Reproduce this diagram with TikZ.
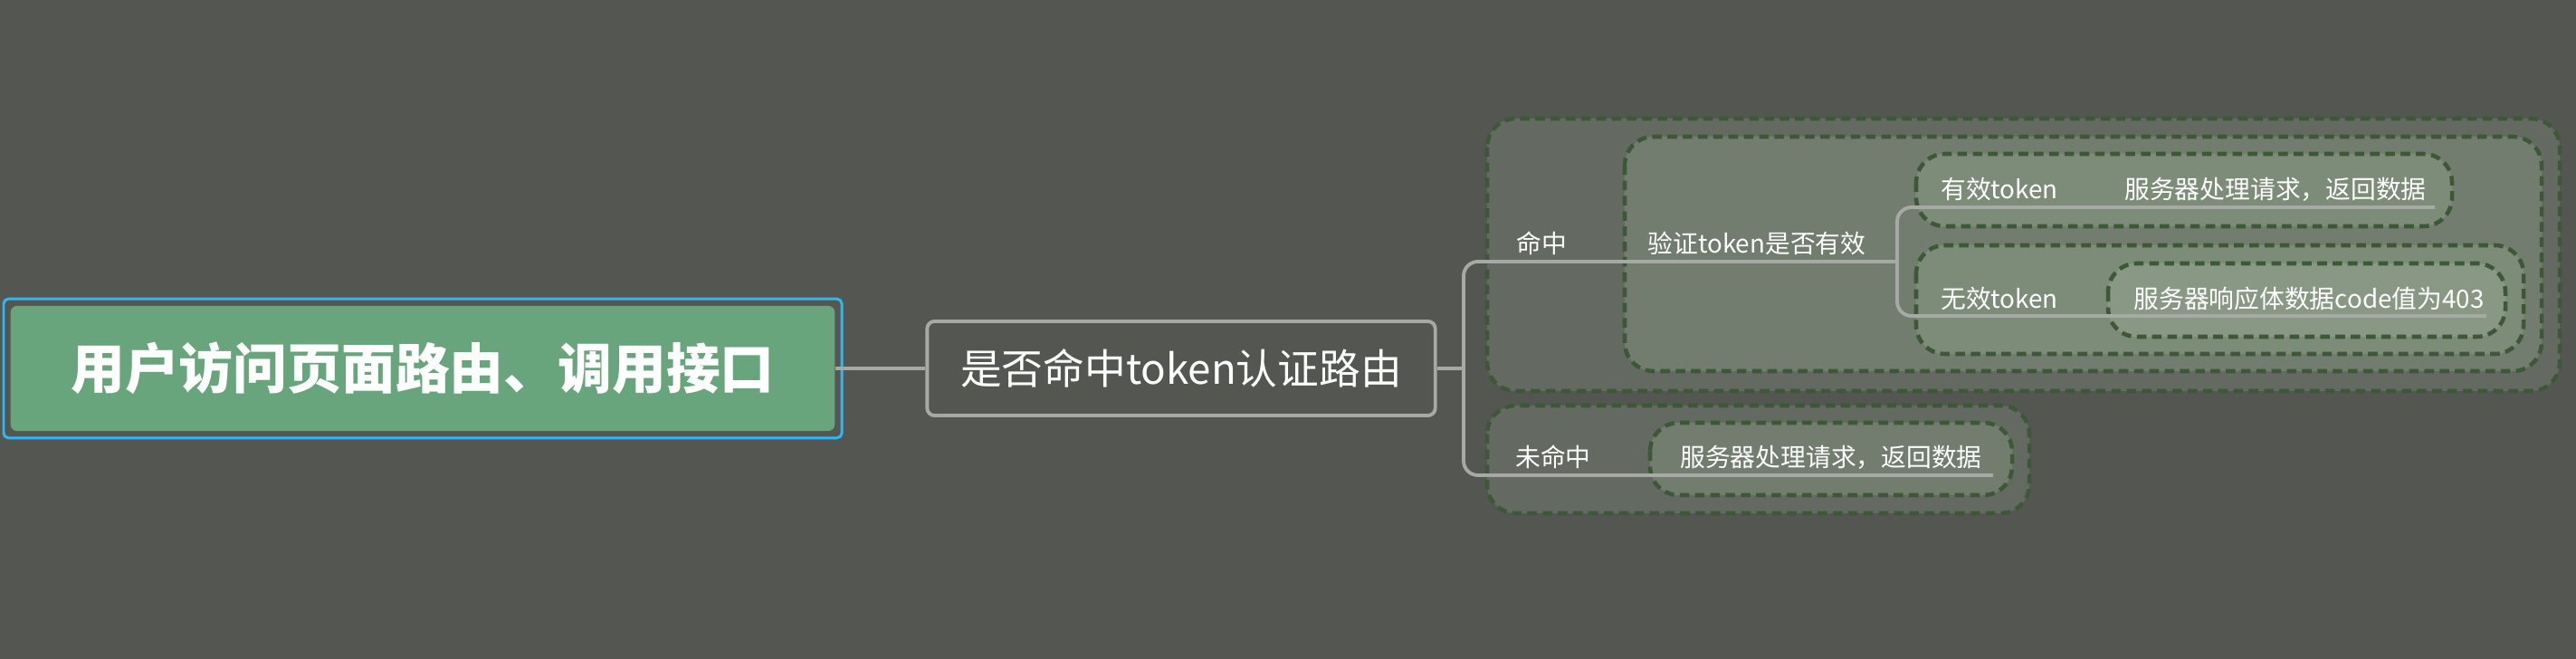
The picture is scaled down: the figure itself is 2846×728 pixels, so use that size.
\documentclass[tikz,border=0pt]{standalone}
\usepackage{fontspec}
\setmainfont{Noto Sans CJK SC}
\usepackage{tikz}
\usetikzlibrary{fit}

\definecolor{bgcol}{HTML}{545652}
\definecolor{rootgreen}{HTML}{68A57C}
\definecolor{selblue}{HTML}{2DB9F4}
\definecolor{linegray}{HTML}{A6A9A4}
\definecolor{dashgreen}{HTML}{3D5836}
\definecolor{boxa}{HTML}{646A62}
\definecolor{boxb}{HTML}{727D6F}
\definecolor{boxc}{HTML}{7D8B79}
\definecolor{boxd}{HTML}{889885}

\begin{document}
\begin{tikzpicture}[x=0.01cm, y=-0.01cm,
  rootnode/.style={fill=rootgreen, rounded corners=2pt, text=white, minimum width=9.10cm, minimum height=1.38cm, font=\fontsize{17pt}{20pt}\selectfont\bfseries},
  selframe/.style={draw=selblue, line width=0.85pt, rounded corners=1.5pt, inner sep=2pt},
  mainnode/.style={draw=linegray, fill=bgcol, line width=1.1pt, rounded corners=2.3pt, text=white, minimum width=5.61cm, minimum height=1.04cm, font=\fontsize{13pt}{16pt}\selectfont},
  leaf/.style={text=white, inner sep=0pt, font=\fontsize{7.9pt}{9pt}\selectfont},
  branch/.style={draw=linegray, line width=1.1pt, rounded corners=4.5pt},
  groupbox/.style={draw=dashgreen, line width=1.3pt, dash pattern=on 3pt off 1.8pt, rounded corners=9pt}]
  % canvas, 1 unit = 1px of the 2846x728 sheet, y runs down
  \fill[bgcol] (0,0) rectangle (2846,728);
  \useasboundingbox (0,0) rectangle (2846,728);
  % dashed summary boxes, outer ones first
  \foreach \xa/\ya/\xb/\yb/\fc in {1643/131/2828/432/boxa, 1795/151/2808/410/boxb,
      2117/170/2709/250/boxc, 2117/271/2788/391/boxc, 2329/291/2768/372/boxd,
      1643/448/2242/567/boxa, 1823/467/2223/547/boxb} {
    \filldraw[groupbox, fill=\fc] (\xa,\ya) rectangle (\xb,\yb);
  }
  % central topic and first branch
  \node[rootnode] (root) at (467,407) {用户访问页面路由、调用接口};
  \node[selframe, fit=(root)] (rootsel) {};
  \node[mainnode] (route) at (1305,407) {是否命中token认证路由};
  % ends of the underlines
  \coordinate (fork) at (1617,407);
  \coordinate (verifyend) at (2096,289);
  \coordinate (validend) at (2690,229);
  \coordinate (invalidend) at (2747,349);
  \coordinate (missend) at (2202,525);
  \draw[branch] (root.east) -- (route.west);
  \draw[branch] (route.east) -- (fork);
  \draw[branch] (verifyend) -| (fork) |- (missend);
  \draw[branch] (validend) -| (verifyend) |- (invalidend);
  % labels sitting on the lines
  \node[leaf] (hit) at (1703,269) {命中};
  \node[leaf] (verify) at (1941,269) {验证token是否有效};
  \node[leaf] (valid) at (2209,209) {有效token};
  \node[leaf] (validres) at (2514,209) {服务器处理请求，返回数据};
  \node[leaf] (invalid) at (2209,330) {无效token};
  \node[leaf] (invalidres) at (2551,330) {服务器响应体数据code值为403};
  \node[leaf] (miss) at (1716,505) {未命中};
  \node[leaf] (missres) at (2023,505) {服务器处理请求，返回数据};
\end{tikzpicture}
\end{document}
